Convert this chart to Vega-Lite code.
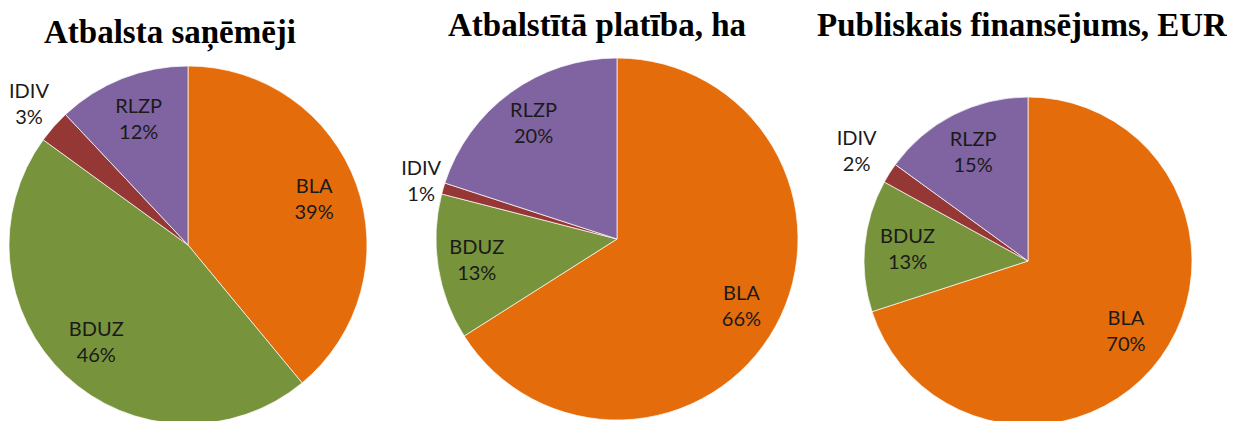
{
  "$schema": "https://vega.github.io/schema/vega-lite/v6.json",
  "padding": {"top": 10, "left": 0, "right": 0, "bottom": 0},
  "background": "white",
  "config": {
    "view": {"stroke": null},
    "title": {"font": "Liberation Serif", "fontSize": 33, "fontWeight": "bold", "color": "#000", "anchor": "middle", "frame": "group", "baseline": "alphabetic"},
    "text": {"font": "Lato", "fontSize": 20, "color": "#1a1a1a"}
  },
  "datasets": {
    "pies": [
      {"chart": "A", "cat": "BLA", "v": 0.39, "k": 1},
      {"chart": "A", "cat": "BDUZ", "v": 0.46, "k": 2},
      {"chart": "A", "cat": "IDIV", "v": 0.03, "k": 3},
      {"chart": "A", "cat": "RLZP", "v": 0.12, "k": 4},
      {"chart": "B", "cat": "BLA", "v": 0.66, "k": 1},
      {"chart": "B", "cat": "BDUZ", "v": 0.13, "k": 2},
      {"chart": "B", "cat": "IDIV", "v": 0.01, "k": 3},
      {"chart": "B", "cat": "RLZP", "v": 0.20, "k": 4},
      {"chart": "C", "cat": "BLA", "v": 0.70, "k": 1},
      {"chart": "C", "cat": "BDUZ", "v": 0.13, "k": 2},
      {"chart": "C", "cat": "IDIV", "v": 0.02, "k": 3},
      {"chart": "C", "cat": "RLZP", "v": 0.15, "k": 4}
    ]
  },
  "hconcat": [
    {
      "title": {"text": "Atbalsta saņēmēji", "dx": -18, "offset": -25},
      "width": 376, "height": 390,
      "data": {"name": "pies"},
      "transform": [{"filter": "datum.chart === 'A'"}],
      "encoding": {
        "theta": {"field": "v", "type": "quantitative", "stack": true},
        "order": {"field": "k", "type": "quantitative"}
      },
      "layer": [
        {"mark": {"type": "arc", "outerRadius": 179, "stroke": "#ffffff", "strokeWidth": 0.7},
         "encoding": {"color": {"field": "cat", "type": "nominal", "legend": null,
           "scale": {"domain": ["BLA", "BDUZ", "IDIV", "RLZP"], "range": ["#E46C0A", "#77933C", "#953735", "#8064A2"]}}}},
        {"mark": {"type": "text", "radius": 134, "dy": -13},
         "encoding": {"text": {"field": "cat", "type": "nominal", "condition": {"test": "datum.cat === 'IDIV'", "value": ""}}}},
        {"mark": {"type": "text", "radius": 134, "dy": 13},
         "encoding": {"text": {"field": "v", "type": "quantitative", "format": ".0%", "condition": {"test": "datum.cat === 'IDIV'", "value": ""}}}},
        {"mark": {"type": "text", "radius": 212, "dy": -13},
         "encoding": {"text": {"condition": {"test": "datum.cat === 'IDIV'", "field": "cat", "type": "nominal"}, "value": ""}}},
        {"mark": {"type": "text", "radius": 212, "dy": 13},
         "encoding": {"text": {"condition": {"test": "datum.cat === 'IDIV'", "field": "v", "type": "quantitative", "format": ".0%"}, "value": ""}}}
      ]
    },
    {
      "title": {"text": "Atbalstītā platība, ha", "dx": -20, "offset": 7},
      "width": 462, "height": 378,
      "data": {"name": "pies"},
      "transform": [{"filter": "datum.chart === 'B'"}],
      "encoding": {
        "theta": {"field": "v", "type": "quantitative", "stack": true},
        "order": {"field": "k", "type": "quantitative"}
      },
      "layer": [
        {"mark": {"type": "arc", "outerRadius": 181, "stroke": "#ffffff", "strokeWidth": 0.7},
         "encoding": {"color": {"field": "cat", "type": "nominal", "legend": null,
           "scale": {"domain": ["BLA", "BDUZ", "IDIV", "RLZP"], "range": ["#E46C0A", "#77933C", "#953735", "#8064A2"]}}}},
        {"mark": {"type": "text", "radius": 142, "dy": -13},
         "encoding": {"text": {"field": "cat", "type": "nominal", "condition": {"test": "datum.cat === 'IDIV'", "value": ""}}}},
        {"mark": {"type": "text", "radius": 142, "dy": 13},
         "encoding": {"text": {"field": "v", "type": "quantitative", "format": ".0%", "condition": {"test": "datum.cat === 'IDIV'", "value": ""}}}},
        {"mark": {"type": "text", "radius": 204, "dy": -13},
         "encoding": {"text": {"condition": {"test": "datum.cat === 'IDIV'", "field": "cat", "type": "nominal"}, "value": ""}}},
        {"mark": {"type": "text", "radius": 204, "dy": 13},
         "encoding": {"text": {"condition": {"test": "datum.cat === 'IDIV'", "field": "v", "type": "quantitative", "format": ".0%"}, "value": ""}}}
      ]
    },
    {
      "title": {"text": "Publiskais finansējums, EUR", "dx": -6, "offset": 7},
      "width": 340, "height": 422,
      "data": {"name": "pies"},
      "transform": [{"filter": "datum.chart === 'C'"}],
      "encoding": {
        "theta": {"field": "v", "type": "quantitative", "stack": true},
        "order": {"field": "k", "type": "quantitative"}
      },
      "layer": [
        {"mark": {"type": "arc", "outerRadius": 164, "stroke": "#ffffff", "strokeWidth": 0.7},
         "encoding": {"color": {"field": "cat", "type": "nominal", "legend": null,
           "scale": {"domain": ["BLA", "BDUZ", "IDIV", "RLZP"], "range": ["#E46C0A", "#77933C", "#953735", "#8064A2"]}}}},
        {"mark": {"type": "text", "radius": 121, "dy": -13},
         "encoding": {"text": {"field": "cat", "type": "nominal", "condition": {"test": "datum.cat === 'IDIV'", "value": ""}}}},
        {"mark": {"type": "text", "radius": 121, "dy": 13},
         "encoding": {"text": {"field": "v", "type": "quantitative", "format": ".0%", "condition": {"test": "datum.cat === 'IDIV'", "value": ""}}}},
        {"mark": {"type": "text", "radius": 203, "dy": -13},
         "encoding": {"text": {"condition": {"test": "datum.cat === 'IDIV'", "field": "cat", "type": "nominal"}, "value": ""}}},
        {"mark": {"type": "text", "radius": 203, "dy": 13},
         "encoding": {"text": {"condition": {"test": "datum.cat === 'IDIV'", "field": "v", "type": "quantitative", "format": ".0%"}, "value": ""}}}
      ]
    }
  ],
  "spacing": 10,
  "bounds": "flush",
  "resolve": {"scale": {"theta": "independent", "color": "shared"}}
}
